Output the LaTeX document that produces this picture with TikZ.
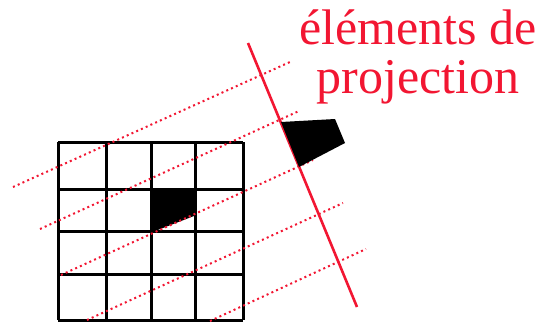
\documentclass[tikz,border=0pt]{standalone}
\usepackage{fontspec}
\newfontfamily\labelfont{Liberation Serif}
\definecolor{projred}{RGB}{242,22,50}

\begin{document}
\begin{tikzpicture}[x=1pt, y=-1pt,
  every node/.style={font=\labelfont\fontsize{50}{49}\selectfont, text=projred, inner sep=0pt},
  gridline/.style={line width=3pt, black},
  rayline/.style={projred, line width=2pt, dash pattern=on 2pt off 3.2pt},
  planeline/.style={projred, line width=2.6pt}]
  \useasboundingbox (0,0) rectangle (546,322);

  %% Left: pixel grid with the object
  \foreach \x in {58,106,151,195,243}
    \draw[gridline] (\x,142) -- (\x,320);
  \foreach \y in {142,189,231,274,320}
    \draw[gridline] (58,\y) -- (243,\y);
  \fill[black] (150,188) -- (194,188) -- (194,216) -- (150,233) -- cycle;

  %% Projection rays (dotted)
  \draw[rayline] (13,187) -- (290,62);
  \draw[rayline] (40,229) -- (299,111);
  \draw[rayline] (61,275) -- (313,160);
  \draw[rayline] (87,320) -- (343,203);
  \draw[rayline] (210,321) -- (366,249);

  %% Projection line and projected object
  \draw[planeline] (248,43) -- (357,307);
  \fill[black] (281,122) -- (335,119) -- (345,143) -- (299,167) -- cycle;

  %% Label
  \node[align=center] (title) at (418,57) {éléments de\\projection};

\end{tikzpicture}
\end{document}
